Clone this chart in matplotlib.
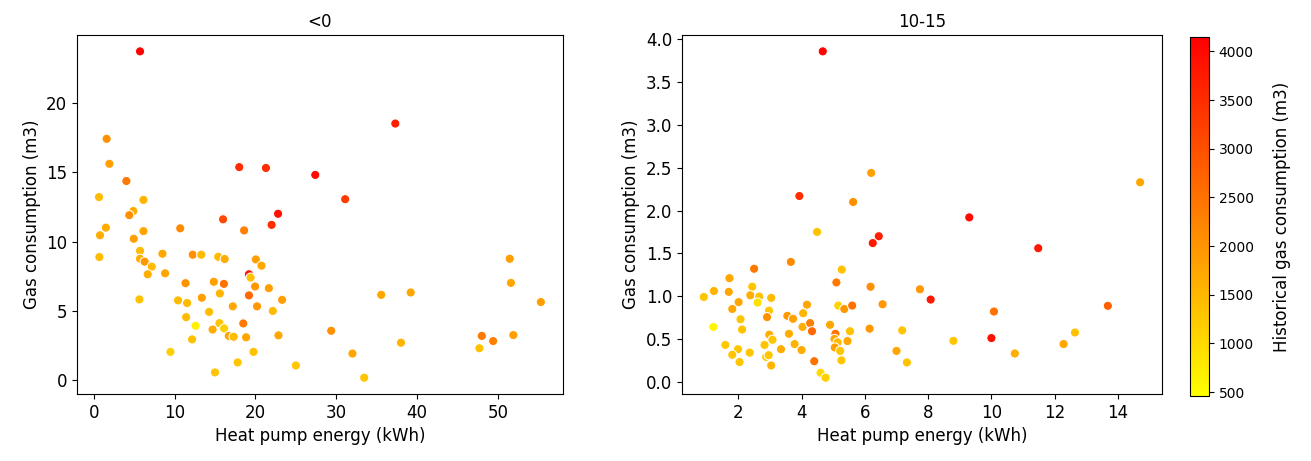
import matplotlib
matplotlib.use("Agg")
import matplotlib.pyplot as plt
from matplotlib.colors import Normalize
from matplotlib.cm import ScalarMappable

# bin "<0": heat pump energy (kWh), gas consumption (m3), historical gas (m3)
cold_hp = [5.73, 1.6, 1.94, 4.04, 0.66, 6.15, 4.9, 4.4, 1.5, 6.15, 10.7, 18.0, 21.3, 27.4,
           22.8, 22.0, 16.0, 18.6, 0.78, 4.95, 0.7, 5.73, 5.73, 6.3, 7.18, 6.68, 8.5, 8.83,
           12.25, 13.3, 15.4, 16.2, 11.35, 14.85, 16.1, 15.6, 19.2, 19.4, 20.05, 20.75, 19.96,
           19.2, 21.66, 23.3, 20.2, 22.15, 17.2, 13.37, 10.43, 11.55, 5.65, 14.27, 11.43, 12.6,
           15.55, 14.7, 16.13, 16.7, 17.3, 18.5, 18.85, 22.85, 12.17, 9.49, 19.76, 17.8, 15.0,
           25.0, 37.3, 31.1, 51.45, 51.6, 55.3, 35.56, 39.2, 29.37, 38.0, 32.0, 33.45, 48.0,
           49.4, 51.9, 47.7]
cold_gas = [23.7, 17.4, 15.6, 14.36, 13.2, 13.0, 12.2, 11.9, 11.0, 10.75, 10.95, 15.36, 15.3,
            14.8, 12.0, 11.2, 11.6, 10.8, 10.45, 10.2, 8.88, 9.33, 8.76, 8.55, 8.19, 7.64, 9.12,
            7.71, 9.05, 9.05, 8.9, 8.74, 7.0, 7.1, 6.95, 6.26, 7.64, 7.4, 8.71, 8.26, 6.76, 6.12,
            6.64, 5.8, 5.33, 5.0, 5.33, 5.95, 5.76, 5.57, 5.83, 4.93, 4.55, 3.93, 4.12, 3.66,
            3.74, 3.2, 3.14, 4.1, 3.1, 3.24, 2.95, 2.05, 2.05, 1.29, 0.57, 1.07, 18.5, 13.05,
            8.76, 7.02, 5.64, 6.16, 6.33, 3.57, 2.71, 1.93, 0.19, 3.2, 2.83, 3.26, 2.31]
cold_hist = [4100, 2050, 1850, 2400, 1450, 1550, 1650, 2050, 1650, 1750, 2150, 3500, 3500, 4000,
             3900, 3500, 3100, 2300, 1650, 1850, 1450, 1450, 1650, 1950, 1450, 1650, 1750, 1750,
             2050, 1450, 1450, 1650, 2050, 1850, 2500, 1550, 3900, 1350, 1850, 1750, 1950, 2650,
             1850, 1850, 1950, 1450, 1750, 1850, 1450, 1450, 1350, 1450, 1450, 700, 1300, 1650,
             1150, 1750, 1450, 2400, 1750, 1750, 1350, 1150, 1350, 1300, 1300, 1300, 3700, 3300,
             1850, 1750, 1850, 1750, 1750, 2050, 1550, 1750, 1300, 2400, 2300, 1850, 1350]

# bin "10-15"
mild_hp = [4.67, 6.2, 3.93, 5.63, 4.49, 6.44, 6.25, 7.74, 8.08, 3.66, 2.5, 1.72, 1.23, 0.91,
           1.7, 2.44, 2.38, 2.66, 3.04, 2.01, 2.61, 1.81, 2.97, 2.07, 2.91, 1.21, 2.12, 2.98,
           3.08, 1.59, 1.99, 1.81, 2.36, 2.83, 2.88, 2.96, 2.04, 3.04, 3.35, 3.55, 3.73, 4.17,
           4.05, 4.03, 4.27, 4.33, 3.6, 3.78, 4.0, 4.4, 4.6, 4.76, 4.9, 5.1, 5.27, 5.16, 5.35,
           5.6, 5.07, 5.04, 5.14, 5.05, 5.22, 5.26, 5.45, 5.53, 6.18, 6.15, 6.56, 7.0, 7.18,
           7.33, 14.7, 9.3, 11.48, 10.08, 10.0, 8.8, 10.74, 13.68, 12.64, 12.28]
mild_gas = [3.86, 2.44, 2.17, 2.10, 1.75, 1.70, 1.62, 1.08, 0.96, 1.40, 1.32, 1.21, 1.06, 0.99,
            1.05, 1.11, 1.01, 0.995, 0.98, 0.93, 0.925, 0.85, 0.83, 0.73, 0.755, 0.64, 0.61,
            0.55, 0.49, 0.43, 0.38, 0.315, 0.34, 0.43, 0.29, 0.31, 0.23, 0.19, 0.38, 0.77, 0.735,
            0.90, 0.80, 0.64, 0.685, 0.59, 0.56, 0.44, 0.37, 0.24, 0.105, 0.047, 0.665, 1.16,
            1.31, 0.89, 0.85, 0.89, 0.56, 0.50, 0.46, 0.40, 0.36, 0.25, 0.475, 0.59, 1.11, 0.62,
            0.905, 0.36, 0.60, 0.225, 2.33, 1.92, 1.56, 0.82, 0.51, 0.478, 0.33, 0.887, 0.575,
            0.44]
mild_hist = [4100, 1850, 3500, 2050, 1350, 3700, 3800, 1950, 3800, 2150, 2400, 1750, 1550, 1300,
             1750, 1300, 1650, 1350, 1450, 1750, 900, 1750, 1300, 1300, 2050, 600, 1350, 1650,
             1300, 1250, 1300, 1300, 1300, 1300, 1250, 1300, 1300, 1550, 1650, 1950, 1850, 1750,
             1550, 1650, 2300, 2650, 1650, 1550, 1650, 2500, 1000, 1150, 1750, 2400, 1350, 1100,
             1950, 2500, 2500, 1750, 1450, 1850, 1300, 1300, 1750, 1350, 2050, 1950, 1950, 1750,
             1300, 1350, 1750, 4000, 3800, 2500, 3900, 1300, 1650, 2750, 1350, 1750]

cbar_ticks = [500, 1000, 1500, 2000, 2500, 3000, 3500, 4000]

norm = Normalize(vmin=460, vmax=4150)
cmap = "autumn_r"

fig = plt.figure(figsize=(13.11, 4.61), dpi=100)
ax1 = fig.add_axes([0.0587, 0.1453, 0.3707, 0.7787])
ax2 = fig.add_axes([0.5202, 0.1453, 0.3661, 0.7787])
cax = fig.add_axes([0.9077, 0.141, 0.0145, 0.779])

for ax, x, y, c, title in [(ax1, cold_hp, cold_gas, cold_hist, "<0"),
                           (ax2, mild_hp, mild_gas, mild_hist, "10-15")]:
    ax.scatter(x, y, c=c, cmap=cmap, norm=norm, s=44, edgecolors="white", linewidths=0.75)
    ax.set_title(title, fontsize=12)
    ax.set_xlabel("Heat pump energy (kWh)", fontsize=12)
    ax.set_ylabel("Gas consumption (m3)", fontsize=12)
    ax.tick_params(labelsize=12)

ax1.set_xticks([0, 10, 20, 30, 40, 50])
ax1.set_yticks([0, 5, 10, 15, 20])
ax2.set_xticks([2, 4, 6, 8, 10, 12, 14])
ax2.set_yticks([0.0, 0.5, 1.0, 1.5, 2.0, 2.5, 3.0, 3.5, 4.0])

sm = ScalarMappable(norm=norm, cmap=cmap)
cb = fig.colorbar(sm, cax=cax, ticks=cbar_ticks)
cb.set_label("Historical gas consumption (m3)", fontsize=12, labelpad=14)
cb.ax.tick_params(labelsize=10)

fig.savefig("out.png", dpi=100)
